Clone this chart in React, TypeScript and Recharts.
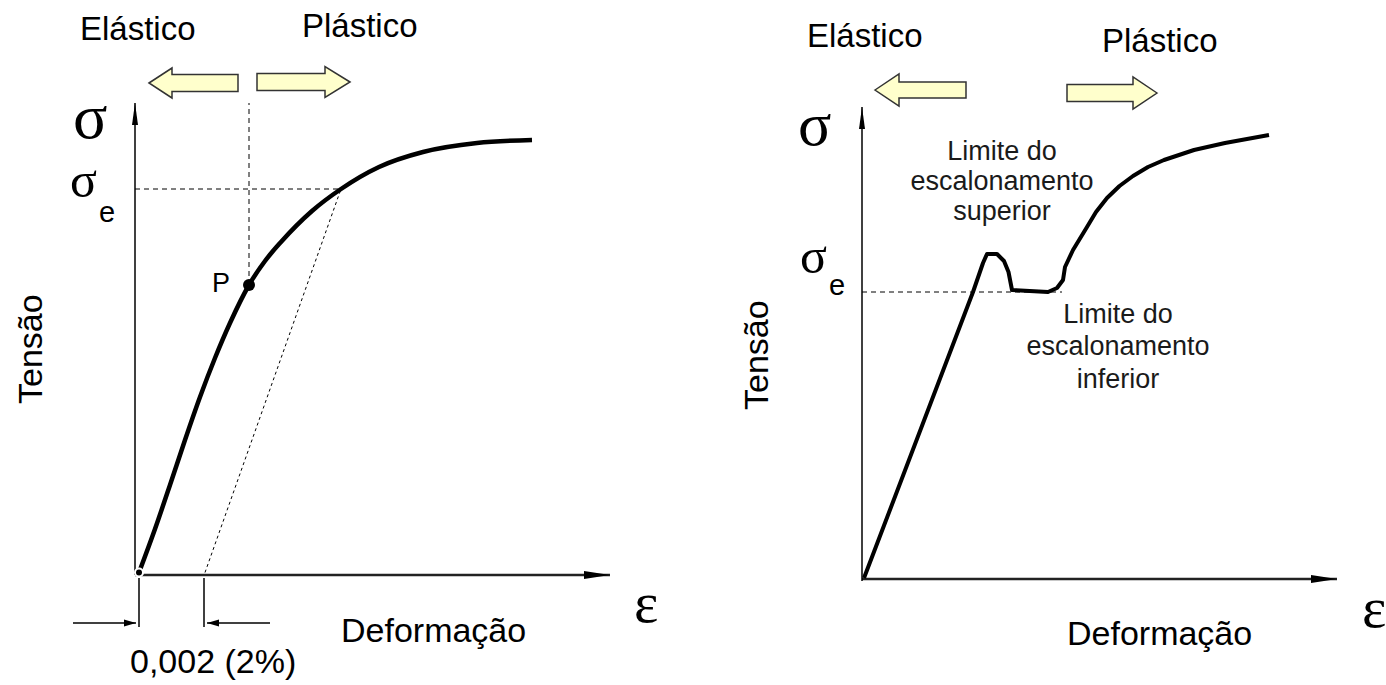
import React from "react";
import { LineChart, Line, XAxis, YAxis, ReferenceLine, ReferenceDot } from "recharts";

// curve points in diagram units (origin = axes corner)
const leftCurve = [
  { x: 0.8, y: 0.5 }, { x: 4, y: 9.2 }, { x: 7, y: 18 }, { x: 10, y: 27 },
  { x: 13, y: 35.6 }, { x: 16, y: 43.4 }, { x: 19, y: 50.4 }, { x: 22.8, y: 58 },
  { x: 26, y: 62.8 }, { x: 29.2, y: 66.6 }, { x: 35.4, y: 72.8 }, { x: 41.2, y: 77.2 },
  { x: 48.8, y: 81.6 }, { x: 57.6, y: 84.6 }, { x: 68.4, y: 86.4 }, { x: 79.4, y: 87 },
];
const offsetLine = [{ x: 14, y: 0.5 }, { x: 41.2, y: 77.2 }];
const pointP = { x: 22.8, y: 58 };
const leftYield = { x: 41.2, y: 77.2 };

const rightCurve = [
  { x: 0.4, y: 0.2 }, { x: 22.2, y: 57.4 }, { x: 24.2, y: 63.2 }, { x: 25, y: 65 },
  { x: 27, y: 65 }, { x: 28.4, y: 63.6 }, { x: 29.3, y: 61.4 }, { x: 30, y: 57.8 },
  { x: 37.2, y: 57.4 }, { x: 39, y: 58.2 }, { x: 40.2, y: 59.8 }, { x: 40.6, y: 62.4 },
  { x: 42.2, y: 65.8 }, { x: 45, y: 70.4 }, { x: 46.8, y: 73.4 }, { x: 49, y: 76.2 },
  { x: 51.5, y: 78.6 }, { x: 54.2, y: 80.6 }, { x: 57.2, y: 82.4 }, { x: 60.4, y: 83.8 },
  { x: 66.4, y: 85.8 }, { x: 72.6, y: 87.2 }, { x: 81.4, y: 88.8 },
];
const rightYield = { x: 40, y: 57.4 };

const axisX = 95;
const axisY = 94.4;
const offsetMark = 13.8;

const font = "'Liberation Sans', Arial, sans-serif";
const serif = "'Liberation Serif', 'Times New Roman', serif";

function BlockArrow({ cx, cy, dir, head, len, body, headH }: any) {
  const s = dir; // 1 = points right, -1 = points left
  const pts = [
    [cx, cy],
    [cx - s * head, cy - headH / 2],
    [cx - s * head, cy - body / 2],
    [cx - s * len, cy - body / 2],
    [cx - s * len, cy + body / 2],
    [cx - s * head, cy + body / 2],
    [cx - s * head, cy + headH / 2],
  ];
  return <polygon points={pts.map((p) => p.join(",")).join(" ")} fill="#FFFFCC" stroke="#333" strokeWidth={1.5} />;
}

const arrowHead = (dx: number, dy: number, len: number, half: number) => (p: any) => {
  const { cx, cy } = p;
  const bx = cx - dx * len;
  const by = cy - dy * len;
  const pts = [
    [cx, cy],
    [bx - dy * half, by + dx * half],
    [bx + dy * half, by - dx * half],
  ];
  return <polygon points={pts.map((q) => q.join(",")).join(" ")} fill="#000" />;
};

function LeftChart() {
  return (
    <div style={{ position: "absolute", left: 0, top: 0 }}>
      <LineChart width={700} height={685} margin={{ top: 0, right: 0, bottom: 0, left: 0 }}>
        <XAxis dataKey="x" type="number" domain={[-27, 113]} allowDataOverflow hide />
        <YAxis type="number" domain={[-22, 115]} allowDataOverflow hide />
        <ReferenceLine segment={[{ x: 0, y: 0 }, { x: axisX, y: 0 }]} stroke="#222" strokeWidth={2.5} />
        <ReferenceLine segment={[{ x: 0, y: 0 }, { x: 0, y: axisY }]} stroke="#000" strokeWidth={1.5} />
        <ReferenceDot x={axisX} y={0} r={0} shape={arrowHead(1, 0, 26, 4)} />
        <ReferenceDot x={0} y={axisY} r={0} shape={arrowHead(0, -1, 22, 3)} />
        <ReferenceLine segment={[{ x: 0, y: leftYield.y }, { x: leftYield.x, y: leftYield.y }]} stroke="#000" strokeWidth={1} strokeDasharray="5 4" />
        <ReferenceLine segment={[{ x: pointP.x, y: pointP.y }, { x: pointP.x, y: axisY }]} stroke="#000" strokeWidth={1} strokeDasharray="5 4" />
        <ReferenceLine segment={[{ x: 0.8, y: -0.6 }, { x: 0.8, y: -10.4 }]} stroke="#000" strokeWidth={1.5} />
        <ReferenceLine segment={[{ x: offsetMark, y: -0.6 }, { x: offsetMark, y: -10.4 }]} stroke="#000" strokeWidth={1.5} />
        <ReferenceLine segment={[{ x: -12.4, y: -9.6 }, { x: 0.2, y: -9.6 }]} stroke="#000" strokeWidth={1.5} />
        <ReferenceLine segment={[{ x: 27, y: -9.6 }, { x: 14.4, y: -9.6 }]} stroke="#000" strokeWidth={1.5} />
        <ReferenceDot x={0.2} y={-9.6} r={0} shape={arrowHead(1, 0, 12, 3.5)} />
        <ReferenceDot x={14.4} y={-9.6} r={0} shape={arrowHead(-1, 0, 12, 3.5)} />
        <ReferenceDot x={2.8} y={98.4} r={0} shape={(p: any) => <BlockArrow cx={p.cx} cy={p.cy} dir={-1} head={23} len={89} body={17} headH={30} />} />
        <ReferenceDot x={43} y={98.6} r={0} shape={(p: any) => <BlockArrow cx={p.cx} cy={p.cy} dir={1} head={25} len={93} body={17} headH={31} />} />
        <Line data={offsetLine} dataKey="y" type="linear" stroke="#000" strokeWidth={1} strokeDasharray="3 3" dot={false} isAnimationActive={false} />
        <Line data={leftCurve} dataKey="y" type="monotone" stroke="#000" strokeWidth={4.5} dot={false} isAnimationActive={false} />
        <ReferenceDot x={pointP.x} y={pointP.y} r={6} fill="#000" stroke="none" />
      </LineChart>
    </div>
  );
}

function RightChart() {
  return (
    <div style={{ position: "absolute", left: 702, top: 0 }}>
      <LineChart width={685} height={685} margin={{ top: 0, right: 0, bottom: 0, left: 0 }}>
        <XAxis dataKey="x" type="number" domain={[-32, 105]} allowDataOverflow hide />
        <YAxis type="number" domain={[-21.2, 115.8]} allowDataOverflow hide />
        <ReferenceLine segment={[{ x: 0, y: 0 }, { x: axisX, y: 0 }]} stroke="#222" strokeWidth={2.5} />
        <ReferenceLine segment={[{ x: 0, y: -0.4 }, { x: 0, y: axisY }]} stroke="#000" strokeWidth={1.5} />
        <ReferenceDot x={axisX} y={0} r={0} shape={arrowHead(1, 0, 26, 4)} />
        <ReferenceDot x={0} y={axisY} r={0} shape={arrowHead(0, -1, 22, 3)} />
        <ReferenceLine segment={[{ x: 0, y: rightYield.y }, { x: rightYield.x, y: rightYield.y }]} stroke="#000" strokeWidth={1} strokeDasharray="5 4" />
        <ReferenceDot x={2.6} y={97.8} r={0} shape={(p: any) => <BlockArrow cx={p.cx} cy={p.cy} dir={-1} head={24} len={91} body={16} headH={32} />} />
        <ReferenceDot x={59} y={97.2} r={0} shape={(p: any) => <BlockArrow cx={p.cx} cy={p.cy} dir={1} head={24} len={90} body={17} headH={32} />} />
        <Line data={rightCurve} dataKey="y" type="linear" stroke="#000" strokeWidth={4} strokeLinejoin="round" dot={false} isAnimationActive={false} />
      </LineChart>
    </div>
  );
}

function Labels() {
  const t = { fontFamily: font, fill: "#000" } as const;
  return (
    <svg width={1386} height={685} style={{ position: "absolute", left: 0, top: 0, pointerEvents: "none" }}>
      {/* left panel */}
      <text x={80} y={40} fontSize={33} {...t}>Elástico</text>
      <text x={302} y={37} fontSize={33} {...t}>Plástico</text>
      <text x={73} y={138} fontSize={64} fontFamily={serif}>σ</text>
      <text x={70} y={197} fontSize={50} fontFamily={serif}>σ</text>
      <text x={99} y={222} fontSize={29} {...t}>e</text>
      <text x={212} y={292} fontSize={27} {...t}>P</text>
      <text transform="translate(42,404) rotate(-90)" fontSize={34} {...t}>Tensão</text>
      <text x={634} y={622} fontSize={58} fontFamily={serif}>ε</text>
      <text x={341} y={642} fontSize={34} {...t}>Deformação</text>
      <text x={130} y={673} fontSize={34} {...t}>0,002 (2%)</text>
      {/* right panel */}
      <text x={807} y={47} fontSize={33} {...t}>Elástico</text>
      <text x={1102} y={52} fontSize={33} {...t}>Plástico</text>
      <text x={798} y={145} fontSize={62} fontFamily={serif}>σ</text>
      <text x={800} y={273} fontSize={50} fontFamily={serif}>σ</text>
      <text x={829} y={295} fontSize={29} {...t}>e</text>
      <text transform="translate(768,410) rotate(-90)" fontSize={34} {...t}>Tensão</text>
      <text x={1362} y={627} fontSize={58} fontFamily={serif}>ε</text>
      <text x={1067} y={645} fontSize={34} {...t}>Deformação</text>
      <g fontSize={27} textAnchor="middle" fontFamily={font} fill="#1a1a1a">
        <text x={1002} y={160}>Limite do</text>
        <text x={1002} y={190}>escalonamento</text>
        <text x={1002} y={220}>superior</text>
        <text x={1118} y={323}>Limite do</text>
        <text x={1118} y={355}>escalonamento</text>
        <text x={1118} y={388}>inferior</text>
      </g>
    </svg>
  );
}

export default function App() {
  return (
    <div style={{ position: "absolute", left: 0, top: 0, width: 1386, height: 685, overflow: "hidden", background: "#fff" }}>
      <LeftChart />
      <RightChart />
      <Labels />
    </div>
  );
}
